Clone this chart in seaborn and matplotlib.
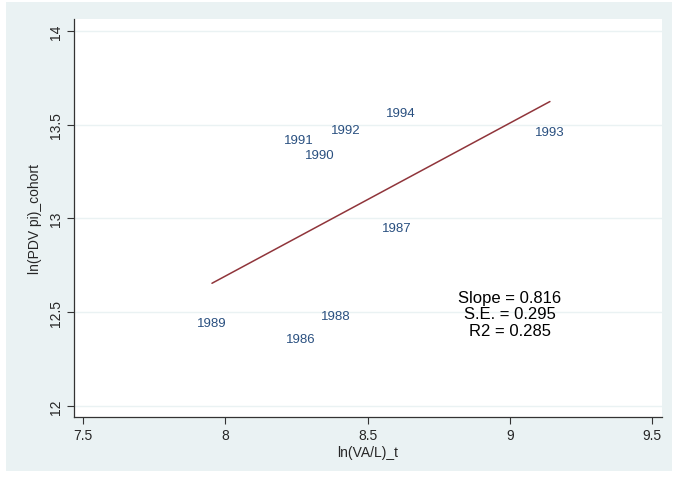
import numpy as np
import pandas as pd
import seaborn as sns
import matplotlib.pyplot as plt
from matplotlib.patches import Rectangle

# cohort points
years = ['1994', '1991', '1992', '1990', '1993', '1987', '1989', '1988', '1986']
ln_va_l = [8.618, 8.259, 8.424, 8.333, 9.141, 8.604, 7.953, 8.389, 8.266]
ln_pdv = [13.564, 13.420, 13.473, 13.340, 13.463, 12.947, 12.441, 12.479, 12.356]

x_ticks = [7.5, 8, 8.5, 9, 9.5]
x_tick_labels = ['7.5', '8', '8.5', '9', '9.5']
y_ticks = [12, 12.5, 13, 13.5, 14]
y_tick_labels = ['12', '12.5', '13', '13.5', '14']

stats_text = 'Slope = 0.816\nS.E. = 0.295\nR2 = 0.285'

df = pd.DataFrame({'year': years, 'x': ln_va_l, 'y': ln_pdv})

sns.set_style('white')
plt.rcParams['font.family'] = ['Liberation Sans', 'DejaVu Sans']

bg = '#eaf2f3'
navy = '#2a5080'
maroon = '#90353b'

fig = plt.figure(figsize=(6.74, 4.81), dpi=100, facecolor='white')
fig.patches.append(Rectangle((6 / 674, 1 - 472 / 481), 666 / 674, 469 / 481,
                             transform=fig.transFigure, facecolor=bg,
                             edgecolor='none', zorder=-10))
ax = fig.add_axes([74 / 674, 1 - 418 / 481, 588 / 674, 398 / 481])
ax.set_zorder(5)
ax.set_facecolor('white')

# fitted line
sns.regplot(data=df, x='x', y='y', ax=ax, scatter=False, ci=None,
            line_kws={'color': maroon, 'lw': 1.1})

# year labels in place of markers
for _, r in df.iterrows():
    ax.text(r['x'], r['y'], r['year'], color=navy, fontsize=9.5,
            ha='center', va='center')

ax.text(9.0, 12.49, stats_text, ha='center', va='center', fontsize=12,
        color='black', linespacing=1.1)

ax.set_xlim(7.468, 9.535)
ax.set_ylim(11.94, 14.064)
ax.set_xticks(x_ticks)
ax.set_xticklabels(x_tick_labels)
ax.set_yticks(y_ticks)
ax.set_yticklabels(y_tick_labels, rotation=90, va='center')
ax.yaxis.grid(True, color=bg, lw=1)
ax.xaxis.grid(False)
ax.tick_params(axis='both', direction='out', length=5, width=0.8,
               color='#333333', labelsize=10, pad=3, left=True, bottom=True)

for s in ['top', 'right']:
    ax.spines[s].set_visible(False)
for s in ['left', 'bottom']:
    ax.spines[s].set_color('#333333')
    ax.spines[s].set_linewidth(0.9)

ax.set_xlabel('ln(VA/L)_t', fontsize=10, labelpad=2)
ax.set_ylabel('ln(PDV pi)_cohort', fontsize=10, labelpad=5)

fig.savefig('out.png', dpi=100, facecolor='white')
